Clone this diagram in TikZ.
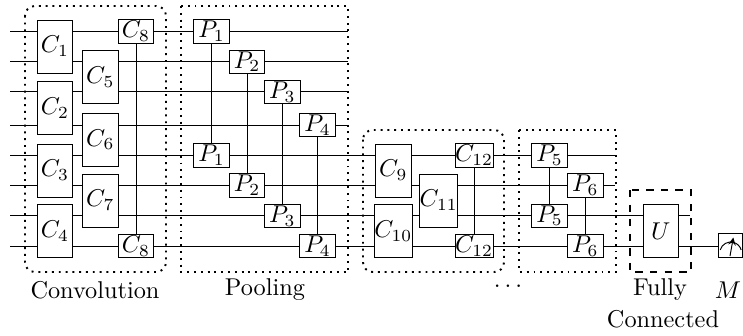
\documentclass[tikz,border=0pt]{standalone}
\usepackage{amsmath, amssymb}
\usetikzlibrary{backgrounds}
\tikzset{
	tallgate/.style={draw, fill=white, inner sep=0pt, minimum width=14.6pt, minimum height=21.8pt},
	shortgate/.style={draw, fill=white, inner sep=0pt, minimum width=14.6pt, minimum height=9.5pt},
	layerbox/.style={thick, dotted},
}

\begin{document}
\begin{tikzpicture}[x=0.4115pt,y=-0.4115pt]
			\useasboundingbox (0,0) rectangle (743,335);

			% wire ends
			\coordinate (w1a) at (10,31.5);
			\coordinate (w1b) at (348,31.5);
			\coordinate (w2a) at (10,61.7);
			\coordinate (w2b) at (348,61.7);
			\coordinate (w3a) at (10,91.7);
			\coordinate (w3b) at (348,91.7);
			\coordinate (w4a) at (10,125);
			\coordinate (w4b) at (348,125);
			\coordinate (w5a) at (10,155);
			\coordinate (w5b) at (615,155);
			\coordinate (w6a) at (10,185.7);
			\coordinate (w6b) at (615,185.7);
			\coordinate (w7a) at (10,215.7);
			\coordinate (w7b) at (690,215.7);
			\coordinate (w8a) at (10,246);
			\coordinate (w8b) at (743,246);

			\node[tallgate] (c1) at (55,46.5) {$C_1$};
			\node[tallgate] (c2) at (55,108) {$C_2$};
			\node[tallgate] (c3) at (55,170.5) {$C_3$};
			\node[tallgate] (c4) at (55,231) {$C_4$};
			\node[tallgate] (c5) at (100.3,77) {$C_5$};
			\node[tallgate] (c6) at (100.3,139.7) {$C_6$};
			\node[tallgate] (c7) at (100.3,200.5) {$C_7$};
			\node[shortgate] (c8a) at (136,31.5) {$C_8$};
			\node[shortgate] (c8b) at (136,246) {$C_8$};

			\node[shortgate] (p1a) at (211.5,31.5) {$P_1$};
			\node[shortgate] (p1b) at (211.5,155.5) {$P_1$};
			\node[shortgate] (p2a) at (247,61.7) {$P_2$};
			\node[shortgate] (p2b) at (247,185.5) {$P_2$};
			\node[shortgate] (p3a) at (282.3,92) {$P_3$};
			\node[shortgate] (p3b) at (282.3,216) {$P_3$};
			\node[shortgate] (p4a) at (317.5,125) {$P_4$};
			\node[shortgate] (p4b) at (317.5,246) {$P_4$};

			\node[tallgate] (c9) at (393.3,170.5) {$C_9$};
			\node[tallgate] (c10) at (393.3,231) {$C_{10}$};
			\node[tallgate] (c11) at (438.7,200.5) {$C_{11}$};
			\node[shortgate] (c12a) at (474,155.5) {$C_{12}$};
			\node[shortgate] (c12b) at (474,246) {$C_{12}$};

			\node[shortgate] (p5a) at (549.5,155.5) {$P_5$};
			\node[shortgate] (p5b) at (549.5,215.8) {$P_5$};
			\node[shortgate] (p6a) at (585.3,185.5) {$P_6$};
			\node[shortgate] (p6b) at (585.3,246) {$P_6$};

			\node[tallgate] (u) at (660.8,231) {$U$};
			\node[draw, fill=white, inner sep=0pt, minimum size=9.8pt] (m) at (730.2,245.8) {};

			% wires and links go behind the gates
			\begin{scope}[on background layer]
				\foreach \i in {1,...,8}
					\draw (w\i a) -- (w\i b);
				\draw (c8a) -- (c8b);
				\draw (p1a) -- (p1b);
				\draw (p2a) -- (p2b);
				\draw (p3a) -- (p3b);
				\draw (p4a) -- (p4b);
				\draw (c12a) -- (c12b);
				\draw (p5a) -- (p5b);
				\draw (p6a) -- (p6b);
			\end{scope}

			% meter
			\draw (720.2,249.9) arc (196:344:10.9);
			\draw[-{stealth}] (730,256) -- (733.3,237.5);

			\draw[layerbox, rounded corners] (25,6) rectangle (166,272);
			\draw[layerbox] (181,6) rectangle (348,272);
			\draw[layerbox, rounded corners] (363,130) rectangle (504,272);
			\draw[layerbox] (519,130) rectangle (616,272);
			\draw[thick, dashed] (630,190) rectangle (691,272);

			\node (convlabel) at (95,290) {Convolution};
			\node (poollabel) at (265,290) {Pooling};
			\node[anchor=base] (moredots) at (510,287) {$\dots$};
			\node (fullylabel) at (660,290) {Fully};
			\node (connlabel) at (663,319) {Connected};
			\node (mlabel) at (728,290) {$M$};
		\end{tikzpicture}
\end{document}
